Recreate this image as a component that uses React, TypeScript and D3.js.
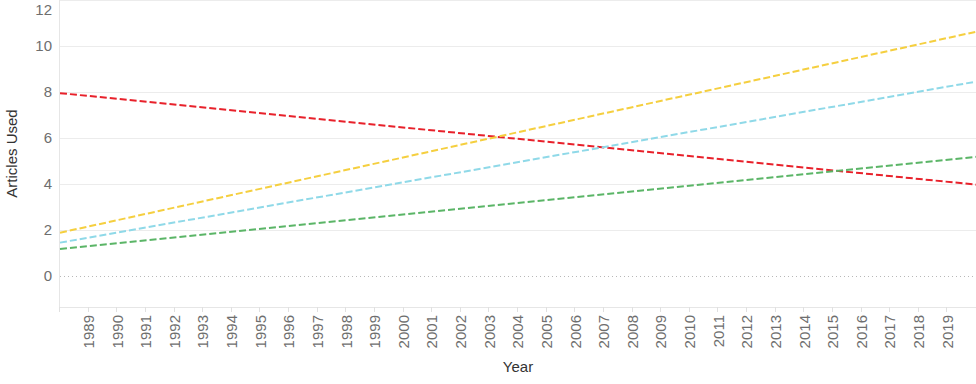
import { useEffect, useRef } from 'react';
import * as d3 from 'd3';

// trend line end points (year, articles used)
const years = d3.range(1989, 2020);
const lineStart = 1988;
const lineEnd = 2020;
const seriesNames = ['Red', 'Yellow', 'Blue', 'Green'];
const startValues = [7.95, 1.88, 1.45, 1.17];
const endValues = [3.97, 10.62, 8.45, 5.18];
const seriesColors = ['#e8212b', '#f5cf3f', '#8fd9e8', '#5bb567'];
const yTicks = [0, 2, 4, 6, 8, 10, 12];

export default function App() {
  const svgRef = useRef<SVGSVGElement>(null);
  const width = 976;
  const height = 384;

  useEffect(() => {
    if (!svgRef.current) return;
    const svg = d3.select(svgRef.current);
    svg.selectAll('*').remove();

    const margin = { top: 0, right: 0, bottom: 77, left: 60 };
    const innerWidth = width - margin.left - margin.right;
    const innerHeight = height - margin.top - margin.bottom;
    const font = '"Liberation Sans", Arial, sans-serif';

    const x = d3.scaleLinear().domain([lineStart, lineEnd]).range([0, innerWidth]);
    const y = d3.scaleLinear().domain([-1.35, 12]).range([innerHeight, 0]);

    const g = svg.append('g').attr('transform', `translate(${margin.left},${margin.top})`);

    // grid lines
    g.append('g')
      .selectAll('line')
      .data(yTicks.filter(d => d !== 0))
      .enter().append('line')
      .attr('x1', 0)
      .attr('x2', innerWidth)
      .attr('y1', d => Math.round(y(d)) + 0.5)
      .attr('y2', d => Math.round(y(d)) + 0.5)
      .attr('stroke', '#ececec')
      .attr('stroke-width', 1);

    // zero line
    g.append('line')
      .attr('x1', 0)
      .attr('x2', innerWidth)
      .attr('y1', Math.round(y(0)) + 0.5)
      .attr('y2', Math.round(y(0)) + 0.5)
      .attr('stroke', '#b8b8b8')
      .attr('stroke-dasharray', '1,3');

    // axis lines
    g.append('line')
      .attr('x1', -0.5).attr('x2', -0.5)
      .attr('y1', 0).attr('y2', innerHeight)
      .attr('stroke', '#e6e6e6');
    g.append('line')
      .attr('x1', -0.5).attr('x2', innerWidth)
      .attr('y1', innerHeight + 0.5).attr('y2', innerHeight + 0.5)
      .attr('stroke', '#e6e6e6');

    // x ticks
    const xTickVals = [lineStart, ...years];
    g.append('g')
      .selectAll('line')
      .data(xTickVals)
      .enter().append('line')
      .attr('x1', d => Math.round(x(d)) - 0.5)
      .attr('x2', d => Math.round(x(d)) - 0.5)
      .attr('y1', innerHeight)
      .attr('y2', innerHeight + 5)
      .attr('stroke', '#e0e0e0');

    g.append('g')
      .selectAll('text')
      .data(years)
      .enter().append('text')
      .attr('transform', d => `translate(${x(d)},${innerHeight + 8}) rotate(-90)`)
      .attr('text-anchor', 'end')
      .attr('dy', '0.35em')
      .style('font-family', font)
      .style('font-size', '15px')
      .style('fill', '#6e6e6e')
      .text(d => String(d));

    // y tick labels
    g.append('g')
      .selectAll('text')
      .data(yTicks)
      .enter().append('text')
      .attr('x', -8)
      .attr('y', d => Math.max(y(d), 10))
      .attr('dy', '0.35em')
      .attr('text-anchor', 'end')
      .style('font-family', font)
      .style('font-size', '15px')
      .style('fill', '#6e6e6e')
      .text(d => String(d));

    // trend lines
    const line = d3.line<[number, number]>()
      .x(d => x(d[0]))
      .y(d => y(d[1]));

    seriesNames.forEach((name, i) => {
      g.append('path')
        .datum([[lineStart, startValues[i]], [lineEnd, endValues[i]]] as [number, number][])
        .attr('class', `trend-${name}`)
        .attr('d', line)
        .attr('fill', 'none')
        .attr('stroke', seriesColors[i])
        .attr('stroke-width', 2)
        .attr('stroke-dasharray', '7,3');
    });

    // axis titles
    svg.append('text')
      .attr('transform', `translate(17,${margin.top + innerHeight / 2}) rotate(-90)`)
      .attr('text-anchor', 'middle')
      .style('font-family', font)
      .style('font-size', '15px')
      .style('fill', '#333')
      .text('Articles Used');

    svg.append('text')
      .attr('x', margin.left + innerWidth / 2)
      .attr('y', 372)
      .attr('text-anchor', 'middle')
      .style('font-family', font)
      .style('font-size', '15px')
      .style('fill', '#333')
      .text('Year');
  }, []);

  return (
    <svg
      ref={svgRef}
      width={width}
      height={height}
      style={{ position: 'absolute', left: 0, top: 0, background: '#fff' }}
    />
  );
}
